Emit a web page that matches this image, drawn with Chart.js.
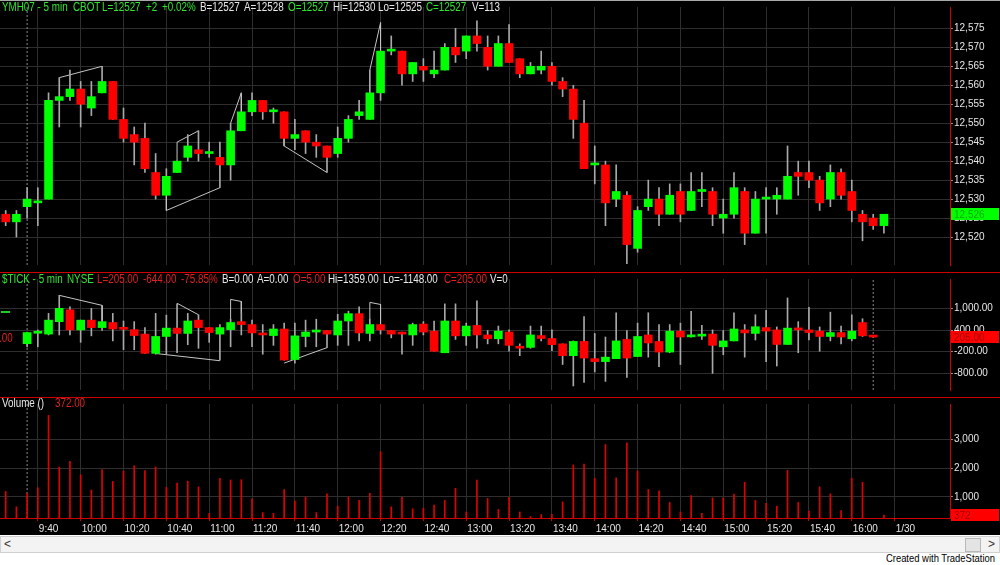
<!DOCTYPE html>
<html>
<head>
<meta charset="utf-8">
<title>YMH07 - 5 min</title>
<script src="https://cdn.jsdelivr.net/npm/chart.js@4.4.1/dist/chart.umd.min.js"></script>
<style>
  body { margin: 0; width: 1000px; height: 565px; background: #fff; overflow: hidden;
         font-family: "Liberation Sans", Arial, sans-serif; }
  #wrap { position: absolute; left: 0; top: 0; width: 1000px; height: 535px; background: #000; }
  #wrap canvas { position: absolute; left: 0; }
  .txt { position: absolute; font-size: 12px; line-height: 13px; white-space: nowrap;
         transform: scaleX(0.82); transform-origin: 0 0; }
  #topline { position: absolute; left: 0; top: 0; width: 1000px; height: 1px; background: #a8a8a8; }
  #gdash { position: absolute; left: 1px; top: 311px; width: 9px; height: 2px; background: #22cc22; }
  #scroll { position: absolute; left: 0; top: 536px; width: 998px; height: 15px; background: #f3f3f3;
            border: 1px solid #d0d0d0; }
  #scroll .arr { position: absolute; top: 0; font-size: 12px; line-height: 15px; color: #333; }
  #thumb { position: absolute; right: 18px; top: 1px; width: 14px; height: 12px; background: #e4e4e4;
           border: 1px solid #b8b8b8; }
  #credit { position: absolute; right: 5px; top: 552px; font-size: 11.5px; line-height: 13px; color: #000;
            transform: scaleX(0.82); transform-origin: 100% 0; white-space: nowrap; }
</style>
</head>
<body>
<div id="wrap">
  <canvas id="price" width="1000" height="272" style="top:0"></canvas>
  <canvas id="tick" width="1000" height="125" style="top:272px"></canvas>
  <canvas id="vol" width="1000" height="138" style="top:397px"></canvas>
  <div id="topline"></div>
  <div id="gdash"></div>
</div>
<div id="scroll"><span class="arr" style="left:3px">&lt;</span><div id="thumb"></div><span class="arr" style="right:4px">&gt;</span></div>
<div id="credit">Created with TradeStation</div>

<script>
// x axis: bar index -> time label
var timeLabels = ["9:40", "10:00", "10:20", "10:40", "11:00", "11:20", "11:40", "12:00", "12:20", "12:40",
                  "13:00", "13:20", "13:40", "14:00", "14:20", "14:40", "15:00", "15:20", "15:40", "16:00", "1/30"];
var timeIdx = [3, 7, 11, 15, 19, 23, 27, 31, 35, 39, 43, 47, 51, 55, 59, 63, 67, 71, 75, 79, 83];

// YMH07 5 min bars
var priceOpen = [12526,12524,12528,12529,12530,12556,12557,12559,12554,12558,
                 12561,12551,12547,12546,12537,12531,12537,12541,12543,12542,
                 12541,12539,12548,12553,12556,12553,12553,12546,12548,12545,
                 12544,12542,12546,12552,12551,12558,12569,12569,12563,12565,
                 12563,12564,12570,12569,12573,12570,12565,12571,12567,12563,
                 12564,12565,12561,12559,12550,12539,12539,12530,12531,12517,
                 12528,12530,12526,12532,12527,12532,12532,12525,12526,12532,
                 12521,12530,12530,12530,12537,12537,12535,12530,12537,12532,
                 12526,12525,12523];
var priceHigh = [12527,12527,12533,12533,12558,12562,12564,12561,12561,12565,
                 12561,12554,12549,12550,12542,12538,12540,12547,12548,12545,
                 12545,12550,12553,12558,12556,12554,12553,12551,12548,12547,
                 12544,12549,12552,12556,12564,12569,12573,12569,12566,12567,
                 12569,12571,12575,12573,12577,12573,12573,12576,12567,12566,
                 12569,12566,12562,12560,12556,12544,12540,12539,12532,12528,
                 12535,12533,12534,12534,12537,12537,12533,12530,12537,12533,
                 12532,12533,12533,12544,12540,12540,12536,12539,12538,12535,
                 12527,12526,12526];
var priceLow = [12523,12520,12525,12523,12530,12549,12556,12549,12552,12558,
                12551,12545,12539,12537,12530,12531,12537,12540,12540,12541,
                12533,12535,12548,12552,12551,12550,12544,12543,12542,12541,
                12537,12541,12545,12551,12551,12556,12568,12560,12561,12561,
                12562,12564,12566,12567,12569,12564,12565,12566,12562,12563,
                12563,12560,12557,12546,12538,12534,12523,12528,12513,12516,
                12527,12523,12526,12524,12527,12528,12523,12521,12525,12518,
                12521,12521,12526,12530,12531,12533,12527,12528,12530,12524,
                12519,12522,12521];
var priceClose = [12524,12526,12530,12529,12556,12557,12559,12555,12557,12561,
                  12551,12546,12545,12538,12531,12536,12540,12544,12542,12542,
                  12539,12548,12553,12556,12553,12553,12546,12547,12545,12544,
                  12541,12546,12551,12553,12558,12569,12569,12563,12566,12564,
                  12564,12570,12568,12573,12571,12565,12571,12566,12563,12565,
                  12565,12561,12559,12551,12538,12539,12529,12532,12518,12527,
                  12530,12526,12531,12526,12532,12532,12526,12526,12533,12521,
                  12530,12530,12531,12536,12536,12535,12529,12537,12531,12527,
                  12524,12523,12526];

// $TICK 5 min bars
var tickOpen = [null,null,20,310,287,631,958,403,673,467,
                607,440,410,287,-246,221,452,305,673,467,
                287,410,631,550,319,246,428,-418,221,344,
                386,263,649,853,305,550,386,319,263,565,
                369,-229,649,238,526,263,157,344,-49,-81,
                246,165,17,-310,84,-393,-474,-393,140,-334,
                263,84,-211,369,210,230,287,-64,98,403,
                305,467,403,0,428,403,369,221,329,157,
                607,238,null];
var tickHigh = [null,null,345,400,860,1359,1042,673,1000,650,
                860,649,631,467,860,811,1123,860,821,467,
                550,698,877,673,550,550,590,590,673,698,
                386,835,919,1042,712,550,386,344,590,631,
                649,1123,1123,590,1204,386,509,403,17,509,
                509,403,17,98,771,305,206,877,386,590,
                877,550,550,590,919,526,403,386,877,550,
                821,943,484,1287,631,1025,484,894,509,821,
                712,250,null];
var tickLow = [null,null,-65,-65,263,263,263,59,238,386,
               98,-147,-147,-246,-270,-270,-229,-7,-106,59,
               -432,-64,263,-64,-270,-25,-432,-516,-64,-64,
               -88,-25,-25,98,98,287,182,-270,-25,263,
               -187,-229,140,-25,-106,17,17,-187,-310,-106,
               98,-172,-555,-1148,-1047,-762,-1022,-393,-909,-334,
               -351,-614,-229,-555,200,140,-801,-285,98,-351,
               123,-474,-597,0,-229,123,-187,98,17,98,
               221,200,null];
var tickClose = [null,null,330,330,673,1000,403,673,467,631,
                 428,420,246,-246,221,452,305,649,467,329,
                 467,607,550,319,263,428,-432,238,344,386,
                 287,649,853,319,550,403,287,287,550,344,
                 -187,649,238,509,263,157,369,-25,-81,263,
                 165,-7,-310,84,-376,-474,-351,98,-376,221,
                 42,-211,369,206,221,238,-25,98,428,319,
                 491,369,0,452,403,329,221,329,206,369,
                 238,205,null];

// volume per bar
var volume = [1190,660,1130,1320,3830,2040,2240,1770,1240,1950,
              1540,1900,2080,1920,2040,1330,1480,1550,1350,430,
              1650,1590,1600,940,460,430,1260,860,1000,460,
              1110,680,1000,880,1130,2570,660,990,590,610,
              720,880,1300,480,1590,950,570,990,480,320,
              390,400,830,2110,2140,1650,2820,1660,2880,1900,
              1260,1210,810,480,1050,430,970,970,1100,1510,
              880,780,680,1920,810,510,1350,1110,530,1650,
              1510,200,372];

// hand drawn lines on the chart: [bar index, value]
var priceLines = [
  [[5, 12562], [9, 12565]],
  [[16, 12540], [16, 12545], [18, 12548]],
  [[15, 12531], [15, 12527], [20, 12533]],
  [[21, 12550], [22, 12558], [22, 12553]],
  [[26, 12546], [26, 12544], [30, 12537]],
  [[34, 12564], [35, 12576.5], [35, 12569]]
];
var tickLines = [
  [[5, 1359], [9, 1081], [9, 650]],
  [[16, 1140], [18, 821]],
  [[14, -250], [20, -450]],
  [[21, 698], [21, 1246], [22, 1189], [22, 877]],
  [[26, -516], [30, -88]],
  [[34, 712], [34, 1165], [35, 1106], [35, 550]]
];

// axis labels
var priceShown = [12520, 12525, 12530, 12535, 12540, 12545, 12550, 12555, 12560, 12565, 12570, 12575];
var tickShown = [1000, 400, -200, -800];
var volShown = [1000, 2000, 3000];

var FONT = '"Liberation Sans", Arial, sans-serif';
var FSIZE = 10;
var GRID = '#2e2e2e';
var RED_AXIS = '#d00000';
var UP = '#00ff00', DOWN = '#ff0000', WICK = '#a8a8a8';
var X_MIN = -0.532, X_MAX = 88.17;
var P_MIN = 12512.625, P_MAX = 12580.625;
var T_MIN = -1260, T_MAX = 1811;
var V_MIN = 271, V_MAX = 4225;

function labelFor(v) {
  var k = timeIdx.indexOf(v);
  return k < 0 ? null : timeLabels[k];
}

function xScale(withAxis) {
  return {
    type: 'linear', min: X_MIN, max: X_MAX, offset: false,
    afterBuildTicks: function (s) {
      var t = [];
      if (withAxis) { for (var i = 0; i <= 88; i++) t.push({ value: i }); }
      else timeIdx.forEach(function (v) { t.push({ value: v }); });
      s.ticks = t;
    },
    afterFit: function (s) { s.height = withAxis ? 17 : 0; },
    grid: {
      offset: false, drawTicks: withAxis, tickLength: 3, tickColor: RED_AXIS,
      color: function (c) { return c.tick && timeIdx.indexOf(c.tick.value) >= 0 ? GRID : 'rgba(0,0,0,0)'; }
    },
    border: { display: withAxis, color: RED_AXIS },
    ticks: {
      display: withAxis, autoSkip: false, maxRotation: 0, minRotation: 0, align: 'start',
      labelOffset: 1, padding: 2, color: '#e6e6e6', font: { family: FONT, size: FSIZE },
      callback: labelFor
    }
  };
}

function yScale(min, max, step, shown, fmt, redZero) {
  return {
    type: 'linear', position: 'right', min: min, max: max, beginAtZero: false,
    afterBuildTicks: function (s) {
      var t = [];
      for (var v = Math.ceil(min / step) * step; v <= max; v += step) t.push({ value: v });
      s.ticks = t;
    },
    afterFit: function (s) { s.width = 50; },
    grid: {
      tickLength: 3, tickColor: '#8a8a8a',
      color: function (c) { return redZero && c.tick && c.tick.value === 0 ? RED_AXIS : GRID; }
    },
    border: { color: RED_AXIS },
    ticks: {
      padding: 1, color: '#e6e6e6', font: { family: FONT, size: FSIZE },
      callback: function (v) { return shown.indexOf(v) >= 0 ? fmt(v) : null; }
    }
  };
}

function candleSets(o, h, l, c) {
  var bodies = [], wicks = [], cols = [];
  for (var i = 0; i < o.length; i++) {
    if (o[i] === null) continue;
    bodies.push({ x: i, y: [o[i], c[i]] });
    wicks.push({ x: i, y: [l[i], h[i]] });
    cols.push(c[i] >= o[i] ? UP : DOWN);
  }
  return [
    { type: 'bar', data: bodies, backgroundColor: cols, barThickness: 8, minBarLength: 2, grouped: false, order: 0 },
    { type: 'bar', data: wicks, backgroundColor: WICK, barThickness: 1, grouped: false, order: 1 }
  ];
}

function lineSet(pts, color, dash) {
  return {
    type: 'line', data: pts.map(function (p) { return { x: p[0], y: p[1] }; }),
    borderColor: color, borderWidth: 1, borderDash: dash || [], pointRadius: 0,
    pointHoverRadius: 0, fill: false, tension: 0, order: 3
  };
}

function tagPlugin(value, text, bg, fg) {
  return {
    id: 'tag',
    afterDraw: function (chart) {
      var ctx = chart.ctx, x = chart.chartArea.right + 1;
      var y = Math.round(chart.scales.y.getPixelForValue(value));
      ctx.save();
      ctx.fillStyle = bg;
      ctx.fillRect(x, y - 6, 48, 12);
      ctx.fillStyle = fg;
      ctx.font = FSIZE + 'px ' + FONT;
      ctx.textBaseline = 'middle';
      ctx.textAlign = 'left';
      ctx.fillText(text, x + 3, y + 1);
      ctx.restore();
    }
  };
}

var sepPlugin = {
  id: 'sep',
  afterDraw: function (chart) {
    var ctx = chart.ctx;
    ctx.save();
    ctx.fillStyle = RED_AXIS;
    ctx.fillRect(0, 0, chart.width, 1);
    ctx.restore();
  }
};

function makeChart(id, datasets, yOpts, withAxis, plugins) {
  return new Chart(document.getElementById(id), {
    type: 'bar',
    data: { datasets: datasets },
    options: {
      responsive: false, animation: false, events: [],
      layout: { padding: 0 },
      plugins: { legend: { display: false }, tooltip: { enabled: false } },
      scales: { x: xScale(withAxis), y: yOpts }
    },
    plugins: plugins
  });
}

function fmtInt(v) { return v.toLocaleString('en-US'); }
function fmt2(v) { return v.toLocaleString('en-US', { minimumFractionDigits: 2, maximumFractionDigits: 2 }); }

// price panel
var pSets = candleSets(priceOpen, priceHigh, priceLow, priceClose);
priceLines.forEach(function (p) { pSets.push(lineSet(p, '#c4c4c4')); });
pSets.push(lineSet([[2, P_MIN], [2, P_MAX]], '#8a8a8a', [2, 2]));
makeChart('price', pSets, yScale(P_MIN, P_MAX, 5, priceShown, fmtInt, false), false,
  [tagPlugin(12526, '12,526', '#00ff00', '#00a800')]);

// $TICK panel
var tSets = candleSets(tickOpen, tickHigh, tickLow, tickClose);
tickLines.forEach(function (p) { tSets.push(lineSet(p, '#c4c4c4')); });
tSets.push(lineSet([[2, T_MIN], [2, T_MAX]], '#8a8a8a', [2, 2]));
tSets.push(lineSet([[81, T_MIN], [81, T_MAX]], '#8a8a8a', [2, 2]));
makeChart('tick', tSets, yScale(T_MIN, T_MAX, 200, tickShown, fmt2, true), false,
  [sepPlugin, tagPlugin(205, '205.00', '#ff0000', '#a00000')]);

// volume panel
var vSets = [{
  type: 'bar', data: volume.map(function (v, i) { return { x: i, y: v }; }),
  backgroundColor: '#e00000', barThickness: 1, grouped: false, order: 0
}];
vSets.push(lineSet([[2, V_MIN], [2, V_MAX]], '#8a8a8a', [2, 2]));
makeChart('vol', vSets, yScale(V_MIN, V_MAX, 500, volShown, fmtInt, false), true,
  [sepPlugin, tagPlugin(372, '372', '#ff0000', '#a00000')]);

// panel headers
var G = '#2fe62f', W = '#e8e8e8', R = '#e02020';
var priceHeader = [["YMH07 - 5 min", G, 2], ["CBOT", G, 73], ["L=12527", G, 102], ["+2", G, 146],
  ["+0.02%", G, 162], ["B=12527", W, 200], ["A=12528", W, 244], ["O=12527", G, 288],
  ["Hi=12530", W, 333], ["Lo=12525", W, 378], ["C=12527", G, 426], ["V=113", W, 472]];
var tickHeader = [["$TICK - 5 min", G, 2], ["NYSE", G, 67], ["L=205.00", R, 97], ["-644.00", R, 143],
  ["-75.85%", R, 181], ["B=0.00", W, 222], ["A=0.00", W, 257], ["O=5.00", R, 293],
  ["Hi=1359.00", W, 328], ["Lo=-1148.00", W, 383], ["C=205.00", R, 444], ["V=0", W, 490]];
var volHeader = [["Volume ()", W, 2], ["372.00", R, 55]];

var wrap = document.getElementById('wrap');
function addText(items, top) {
  items.forEach(function (it) {
    var s = document.createElement('span');
    s.className = 'txt';
    s.textContent = it[0];
    s.style.color = it[1];
    s.style.left = it[2] + 'px';
    s.style.top = top + 'px';
    wrap.appendChild(s);
  });
}
addText(priceHeader, 1);
addText(tickHeader, 273);
addText(volHeader, 397);
addText([[".00", R, -1]], 332);
</script>
</body>
</html>
